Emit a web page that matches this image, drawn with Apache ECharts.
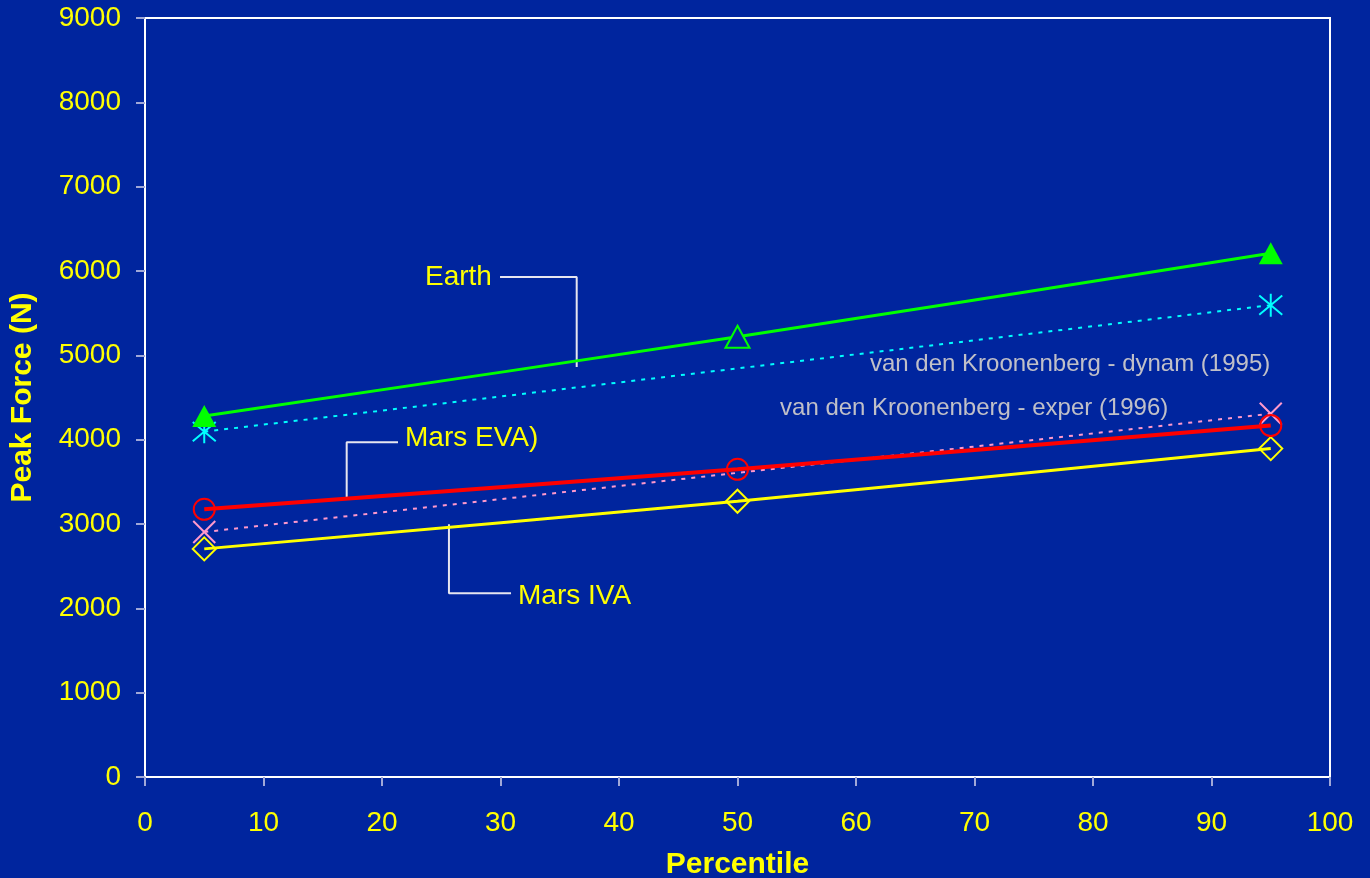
<!DOCTYPE html>
<html>
<head>
<meta charset="utf-8">
<script src="https://cdn.jsdelivr.net/npm/echarts@6/dist/echarts.min.js"></script>
<style>
html,body{margin:0;padding:0;background:#00259E;}
#chart{width:1370px;height:878px;}
</style>
</head>
<body>
<div id="chart"></div>
<script>
// ---- data ----
const percentiles = [5, 50, 95];
const earth = [4280, 5220, 6210];
const marsEVA = [3174, 3649, 4168];
const marsIVA = [2705, 3270, 3894];
const vdkPercentiles = [5, 95];
const vdkDynam = [4095, 5595];
const vdkExper = [2905, 4308];
const xTicks = [0, 10, 20, 30, 40, 50, 60, 70, 80, 90, 100];
const yTicks = [0, 1000, 2000, 3000, 4000, 5000, 6000, 7000, 8000, 9000];

// annotation texts and leader lines (data coordinates)
const labelTexts = ['Earth', 'Mars EVA)', 'Mars IVA', 'van den Kroonenberg - dynam (1995)', 'van den Kroonenberg - exper (1996)'];
const labelAnchors = [[23.63, 5929], [21.94, 4016], [31.48, 2143], [61.18, 4894], [53.59, 4372]];
const earthLeader = [[29.96, 5929], [36.43, 5929], [36.43, 4862]];
const evaLeader = [[21.35, 3969], [17.02, 3969], [17.02, 3293]];
const ivaLeader = [[25.65, 2997], [25.65, 2178], [30.89, 2178]];

const pair = (xs, ys) => xs.map((x, i) => [x, ys[i]]);
const FONT = 'Liberation Sans, Arial, sans-serif';
const BG = '#00259E';

const chart = echarts.init(document.getElementById('chart'));

const starPath = 'path://M0,0L20,20M20,0L0,20M10,-2L10,22';
const xPath = 'path://M0,0L20,20M20,0L0,20';

function leader(data) {
  return {
    type: 'line', data: data, symbol: 'none', silent: true, z: 1,
    lineStyle: {color: '#E6E6F0', width: 2}
  };
}

const labelColors = ['#FFFF00', '#FFFF00', '#FFFF00', '#C0C0C8', '#C0C0C8'];
const labelSizes = [28, 28, 28, 24, 24];

const option = {
  backgroundColor: BG,
  animation: false,
  grid: {left: 145, right: 40, top: 18, bottom: 101, outerBoundsMode: 'none', containLabel: false,
    show: true, borderColor: '#FFFFFF', borderWidth: 2, backgroundColor: 'transparent'},
  xAxis: {
    type: 'value', min: 0, max: 100, interval: 10,
    name: 'Percentile', nameLocation: 'middle', nameGap: 73,
    nameTextStyle: {color: '#FFFF00', fontSize: 30, fontWeight: 'bold', fontFamily: FONT},
    axisLine: {show: true, lineStyle: {color: '#FFFFFF', width: 2}},
    axisTick: {show: true, inside: false, length: 9, lineStyle: {color: '#A0A8D8', width: 2}},
    axisLabel: {color: '#FFFF00', fontSize: 28, fontFamily: FONT, margin: 32,
      formatter: v => xTicks.includes(v) ? String(v) : ''},
    splitLine: {show: false}
  },
  yAxis: {
    type: 'value', min: 0, max: 9000, interval: 1000,
    name: 'Peak Force (N)', nameLocation: 'middle', nameGap: 107, nameRotate: 90,
    nameTextStyle: {color: '#FFFF00', fontSize: 30, fontWeight: 'bold', fontFamily: FONT},
    axisLine: {show: true, lineStyle: {color: '#FFFFFF', width: 2}},
    axisTick: {show: true, inside: false, length: 9, lineStyle: {color: '#A0A8D8', width: 2}},
    axisLabel: {color: '#FFFF00', fontSize: 28, fontFamily: FONT, margin: 24,
      formatter: v => yTicks.includes(v) ? String(v) : ''},
    splitLine: {show: false}
  },
  series: [
    leader(earthLeader), leader(evaLeader), leader(ivaLeader),
    {
      name: 'vdK dynam', type: 'line', data: pair(vdkPercentiles, vdkDynam), z: 3,
      symbol: starPath, symbolSize: 23,
      lineStyle: {color: '#00FFFF', width: 2, type: [4, 6]},
      itemStyle: {color: 'rgba(0,0,0,0)', borderColor: '#00FFFF', borderWidth: 2}
    },
    {
      name: 'vdK exper', type: 'line', data: pair(vdkPercentiles, vdkExper), z: 3,
      symbol: xPath, symbolSize: 22,
      lineStyle: {color: '#FF99CC', width: 2, type: [4, 6]},
      itemStyle: {color: 'rgba(0,0,0,0)', borderColor: '#FF99CC', borderWidth: 2}
    },
    {
      name: 'Mars IVA', type: 'line', data: pair(percentiles, marsIVA), smooth: 0.3, z: 4,
      symbol: 'diamond', symbolSize: [23, 23],
      lineStyle: {color: '#FFFF00', width: 3},
      itemStyle: {color: 'rgba(0,0,0,0)', borderColor: '#FFFF00', borderWidth: 2}
    },
    {
      name: 'Mars EVA', type: 'line', data: pair(percentiles, marsEVA), smooth: 0.3, z: 4,
      symbol: 'circle', symbolSize: 21,
      lineStyle: {color: '#FF0000', width: 4},
      itemStyle: {color: 'rgba(0,0,0,0)', borderColor: '#FF0000', borderWidth: 2}
    },
    {
      name: 'Earth', type: 'line', smooth: 0.3, z: 5,
      data: pair(percentiles, earth).map((d, i) => ({
        value: d,
        itemStyle: i === 1 ? {color: BG, borderColor: '#00FF00', borderWidth: 2} : {color: '#00FF00', borderColor: '#00FF00', borderWidth: 0}
      })),
      symbol: 'triangle', symbolSize: [24, 22],
      lineStyle: {color: '#00FF00', width: 3},
      itemStyle: {color: '#00FF00'}
    },
    {
      name: 'labels', type: 'scatter', silent: true, z: 6,
      symbolSize: 0,
      itemStyle: {opacity: 1},
      data: labelAnchors.map((p, i) => ({
        value: p,
        label: {show: true, position: 'right', distance: 0, formatter: labelTexts[i], opacity: 1,
          color: labelColors[i], fontSize: labelSizes[i], fontFamily: FONT}
      }))
    }
  ]
};
chart.setOption(option);
</script>
</body>
</html>
